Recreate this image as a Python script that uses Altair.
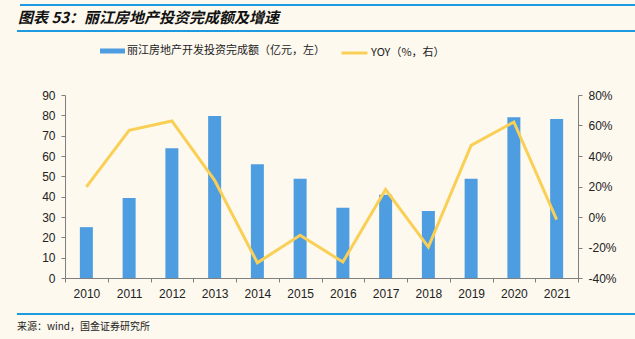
import altair as alt
import pandas as pd

years = ["2010", "2011", "2012", "2013", "2014", "2015", "2016", "2017", "2018", "2019", "2020", "2021"]
invest = [25, 39.3, 63.8, 79.7, 55.9, 48.8, 34.6, 41, 33, 48.8, 79, 78.2]
yoy = [19.7, 56.9, 63, 24, -30, -12, -29.5, 18, -19.7, 47, 62.3, -1.7]

bar_name = "丽江房地产开发投资完成额（亿元，左）"
line_name = "YOY（%，右）"
title_text = "图表 53：丽江房地产投资完成额及增速"
source_text = "来源：wind，国金证券研究所"

df = pd.DataFrame({"year": years, "invest": invest, "yoy": yoy,
                   "s1": [bar_name] * len(years), "s2": [line_name] * len(years)})
one = pd.DataFrame({"k": [0]})

FONT = "Noto Sans CJK SC"
NUMFONT = "Liberation Sans"
BLUE = "#4E9DE0"
YELLOW = "#F9D055"
LINEBLUE = "#1E9BE0"
AXC = "#7f7f7f"

W, H = 513, 183
LEFT, TOP = 65, 95

x_enc = alt.X("year:N", sort=years, title=None,
              scale=alt.Scale(paddingInner=0, paddingOuter=0),
              axis=alt.Axis(labelAngle=0, labelFont=NUMFONT, labelFontSize=12, labelColor="#222",
                            domainColor=AXC, tickColor=AXC, tickSize=4, tickBand="extent",
                            labelPadding=6, domainWidth=1))

bars = alt.Chart(df).mark_bar(size=13).encode(
    x=x_enc,
    y=alt.Y("invest:Q", title=None, scale=alt.Scale(domain=[0, 90]),
            axis=alt.Axis(values=list(range(0, 91, 10)), labelFont=NUMFONT, labelFontSize=12,
                          labelColor="#222", domainColor=AXC, tickColor=AXC, tickSize=4,
                          grid=False, labelPadding=6)),
    color=alt.Color("s1:N", scale=alt.Scale(domain=[bar_name], range=[BLUE]),
                    legend=alt.Legend(title=None, orient="none", legendX=35, legendY=-56.5,
                                      symbolType="M-1,-0.2H1V0.2H-1Z", symbolSize=625,
                                      labelFont=FONT, labelFontSize=11, labelColor="#222",
                                      symbolStrokeWidth=0, labelOffset=2, labelLimit=400)),
)

line = alt.Chart(df).mark_line(strokeWidth=3, strokeJoin="miter").encode(
    x=alt.X("year:N", sort=years),
    y=alt.Y("yoy:Q", title=None, scale=alt.Scale(domain=[-40, 80]),
            axis=alt.Axis(orient="right", values=list(range(-40, 81, 20)),
                          labelExpr="datum.value + '%'", labelFont=NUMFONT, labelFontSize=12,
                          labelColor="#222", domainColor=AXC, tickColor=AXC, tickSize=4,
                          grid=False, labelPadding=6)),
    stroke=alt.Stroke("s2:N", scale=alt.Scale(domain=[line_name], range=[YELLOW]),
                      legend=alt.Legend(title=None, orient="none", legendX=275, legendY=-56.5,
                                        symbolType="stroke", symbolSize=676, symbolStrokeWidth=3,
                                        labelFont=FONT, labelFontSize=11, labelColor="#222",
                                        labelOffset=2, labelLimit=400)),
)

top1 = alt.Chart(one).mark_rule(color=LINEBLUE, strokeWidth=2).encode(
    x=alt.value(20 - LEFT), x2=alt.value(635 - LEFT), y=alt.value(5 - TOP))
top2 = alt.Chart(one).mark_rule(color=LINEBLUE, strokeWidth=2).encode(
    x=alt.value(17 - LEFT), x2=alt.value(635 - LEFT), y=alt.value(31 - TOP))
foot = alt.Chart(one).mark_rule(color=LINEBLUE, strokeWidth=2).encode(
    x=alt.value(17 - LEFT), x2=alt.value(635 - LEFT), y=alt.value(314 - TOP))

title = alt.Chart(one).mark_text(text=title_text, font=FONT, fontSize=15, fontWeight="bold",
                                 fontStyle="italic", align="left", baseline="middle",
                                 color="#111").encode(
    x=alt.value(18 - LEFT), y=alt.value(18 - TOP))
source = alt.Chart(one).mark_text(text=source_text, font=FONT, fontSize=10,
                                  align="left", baseline="middle", color="#222").encode(
    x=alt.value(17 - LEFT), y=alt.value(327 - TOP))

chart = alt.layer(bars, line, top1, top2, foot, title, source).resolve_scale(
    y="independent", color="independent", stroke="independent"
).properties(
    width=W, height=H,
    autosize=alt.AutoSizeParams(type="none"),
    padding={"left": LEFT, "top": TOP, "right": 635 - LEFT - W, "bottom": 339 - TOP - H},
    background="#FDF9EF",
).configure_view(stroke=None)

chart.save("out.html", embed_options={"renderer": "svg", "actions": False})
